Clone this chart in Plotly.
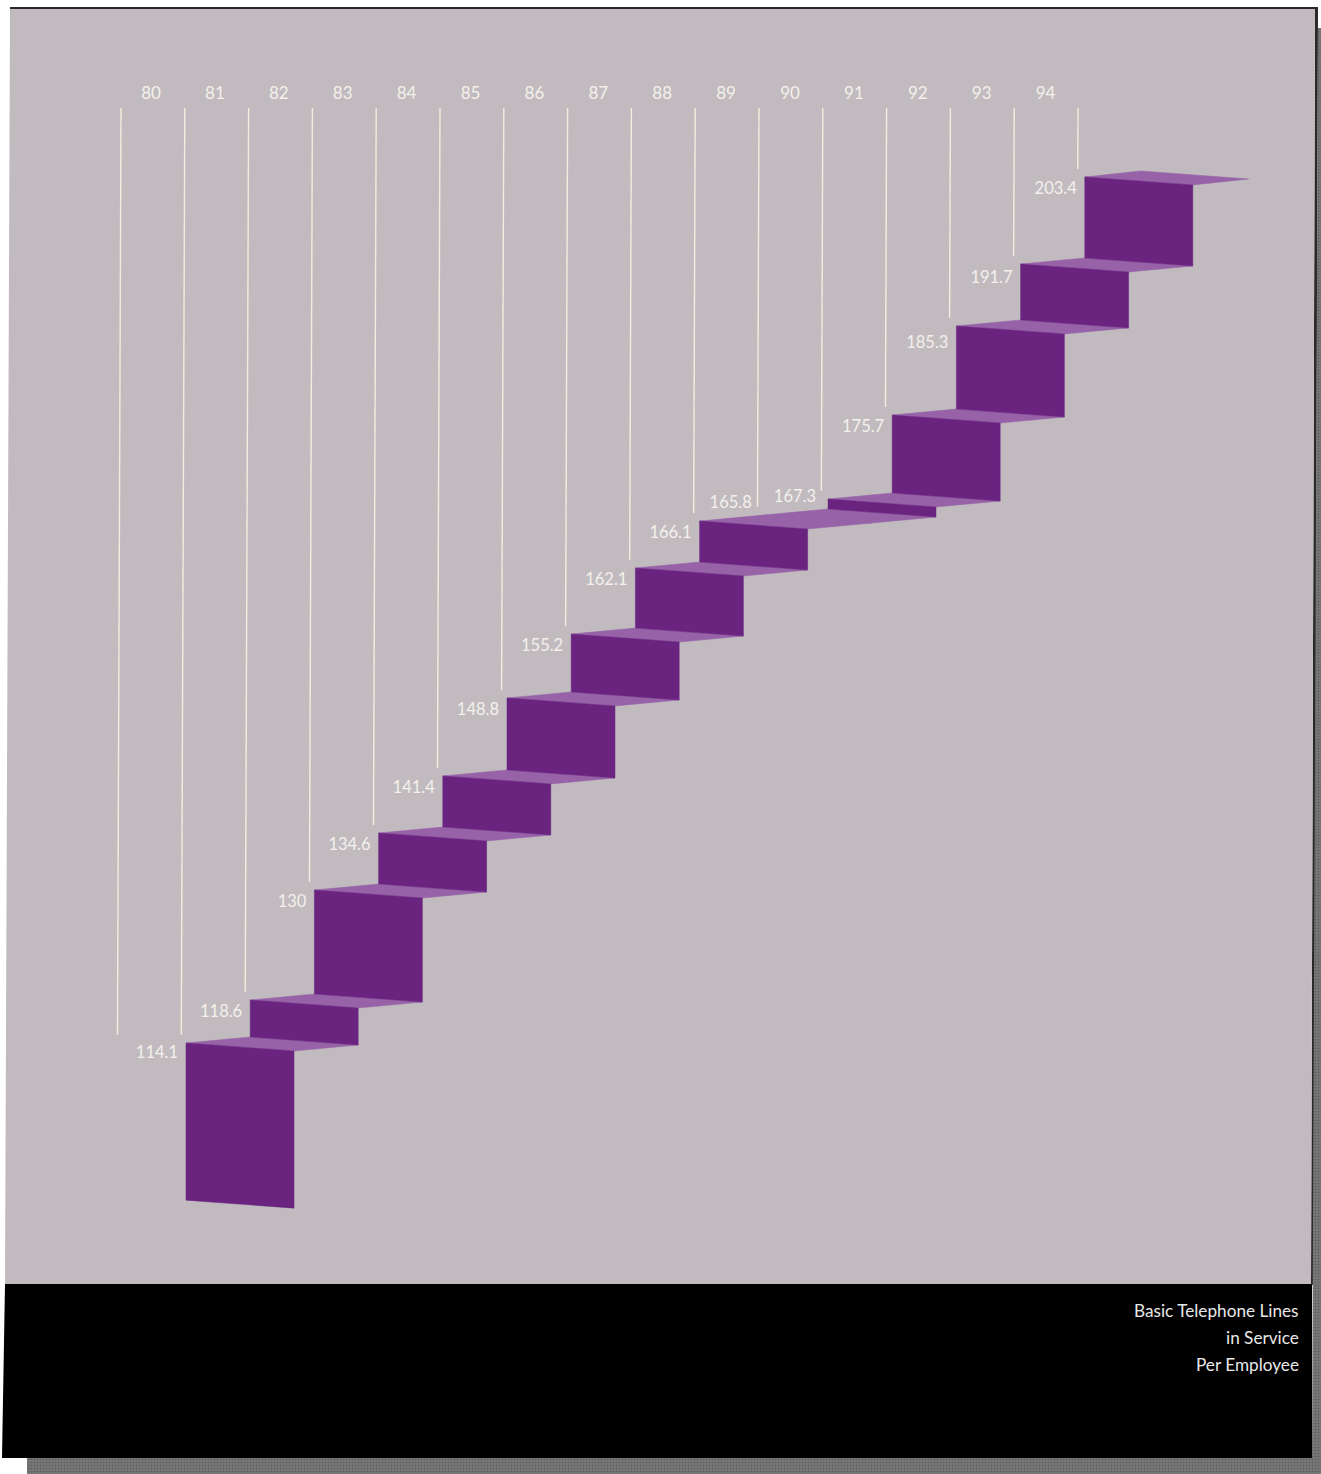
import plotly.graph_objects as go

W, H = 1321, 1474

# ---------- data ----------
years = ["80","81","82","83","84","85","86","87","88","89","90","91","92","93","94"]
printed_values = ["114.1","118.6","130","134.6","141.4","148.8","155.2","162.1",
                  "166.1","165.8","167.3","175.7","185.3","191.7","203.4"]
# height of each tread as actually drawn in the original (it is not strictly to scale)
drawn_levels = [114.1,118.53,129.87,135.75,141.63,149.67,156.26,163.07,
                167.91,168.53,170.18,178.84,188.02,194.41,203.38]
base_level = 97.9
caption_lines = ["Basic Telephone Lines", "in Service", "Per Employee"]

# ---------- scales ----------
STEP_PX = 64.2          # px per year on the x axis
LEVEL_PX = 9.7          # px per level on the y axis
X0_PX, Y0_PX = 186, 1043
px2x = lambda p: (p - X0_PX) / STEP_PX
py2y = lambda p: drawn_levels[0] + (Y0_PX - p) / LEVEL_PX

FACE_W = 108 / STEP_PX
SHEAR = 8 / LEVEL_PX
DEPTH = 6 / LEVEL_PX
n = len(years)
idx = list(range(n))

PURPLE = "#6a2480"
TREAD = "#9762a8"
PANEL = "#c1bbc0"
INK = "#f3f1ea"
LINE = "rgba(242,240,220,0.95)"

# ---------- geometry derived from the data ----------
tx, ty, fx, fy = [], [], [], []
for i in idx:
    top = drawn_levels[i]
    run = 0.87 if i == n - 1 else 1.0
    tx += [i, i + FACE_W, i + FACE_W + run, i + run, i, None]
    ty += [top, top - SHEAR, top - SHEAR + DEPTH, top + DEPTH, top, None]
    low = base_level if i == 0 else drawn_levels[i - 1] + DEPTH
    if top - low > 0.05:          # a step that does not rise shows no riser
        fx += [i, i + FACE_W, i + FACE_W, i, i, None]
        fy += [top, top - SHEAR, low - SHEAR, low, top, None]

fig = go.Figure()

# textured drop shadow of the printed page
shadow_px = [(1318, 28), (1321, 28), (1321, 1474), (27, 1474), (27, 1458), (1312, 1458), (1318, 28)]
fig.add_trace(go.Scatter(
    x=[px2x(p[0]) for p in shadow_px], y=[py2y(p[1]) for p in shadow_px],
    mode="lines", fill="toself", line=dict(width=0, color="#757575"),
    fillpattern=dict(shape=".", bgcolor="#808080", fgcolor="#464646", size=3, solidity=0.5),
    hoverinfo="skip", showlegend=False))

fig.add_trace(go.Scatter(x=tx, y=ty, mode="lines", fill="toself", fillcolor=TREAD,
                         line=dict(color=TREAD, width=0.5), hoverinfo="skip", showlegend=False))
fig.add_trace(go.Scatter(x=fx, y=fy, mode="lines", fill="toself", fillcolor=PURPLE,
                         line=dict(color=PURPLE, width=0.5), hoverinfo="skip", showlegend=False))

# leader lines: one before each year, ending just above the previous tread
LINE_SP = 63.8 / STEP_PX
LINE_X0 = px2x(121)
TOP_LV = py2y(108)
GAP = 8 / LEVEL_PX
TILT = 0.0038 * LEVEL_PX / STEP_PX
ends = [drawn_levels[0]] + drawn_levels
lx, ly = [], []
for i, e in enumerate(ends):
    end = e + GAP
    xt = LINE_X0 + i * LINE_SP
    lx += [xt, xt - (TOP_LV - end) * TILT, None]
    ly += [TOP_LV, end, None]
fig.add_trace(go.Scatter(x=lx, y=ly, mode="lines", line=dict(color=LINE, width=1.4),
                         hoverinfo="skip", showlegend=False))

# year labels
fig.add_trace(go.Scatter(
    x=[px2x(151) + i * 63.9 / STEP_PX for i in idx],
    y=[py2y(95)] * n, mode="text", text=years, textposition="middle center",
    textfont=dict(family="Lato", size=17, color=INK), hoverinfo="skip", showlegend=False))

# value labels
nudge_px = {9: (-4, -24), 10: (-4, -14), 12: (0, 5), 13: (0, 2), 0: (0, -2)}
vx, vy = [], []
for i in idx:
    dx, dy = nudge_px.get(i, (0, 0))
    vx.append(i + (-8 + dx) / STEP_PX)
    vy.append(drawn_levels[i] - (13 + dy) / LEVEL_PX)
fig.add_trace(go.Scatter(x=vx, y=vy, mode="text", text=printed_values,
                         textposition="middle left",
                         textfont=dict(family="Lato", size=16.5, color=INK),
                         hoverinfo="skip", showlegend=False))


def poly(points, color):
    path = "M " + " L ".join(f"{x/W:.5f},{1-y/H:.5f}" for x, y in points) + " Z"
    return dict(type="path", path=path, xref="paper", yref="paper", layer="below",
                fillcolor=color, line=dict(color=color, width=0))


shapes = [
    poly([(10, 7), (1318, 7), (1314, 1285), (1311, 1285), (1315, 9), (10, 9)], "#2a282a"),
    poly([(10, 9), (1315, 9), (1311, 1285), (5, 1285)], PANEL),
    poly([(5, 1284), (1312, 1284), (1312, 1458), (2, 1458)], "#000000"),
]

annotations = [
    dict(x=1300.5 / W, y=1 - (1310 + k * 27) / H, xref="paper", yref="paper", text=t,
         xanchor="right", yanchor="middle", showarrow=False,
         font=dict(family="Lato", size=17.2, color="#e8e8e8"))
    for k, t in enumerate(caption_lines)
]

fig.update_layout(
    width=W, height=H, margin=dict(l=0, r=0, t=0, b=0),
    paper_bgcolor="white", plot_bgcolor="rgba(0,0,0,0)", showlegend=False,
    xaxis=dict(visible=False, range=[px2x(0), px2x(W)], fixedrange=True),
    yaxis=dict(visible=False, range=[py2y(H), py2y(0)], fixedrange=True),
    shapes=shapes, annotations=annotations,
)
fig.write_html("out.html", config=dict(displayModeBar=False),
               post_script="document.body.style.margin='0';document.documentElement.style.overflow='hidden';")
